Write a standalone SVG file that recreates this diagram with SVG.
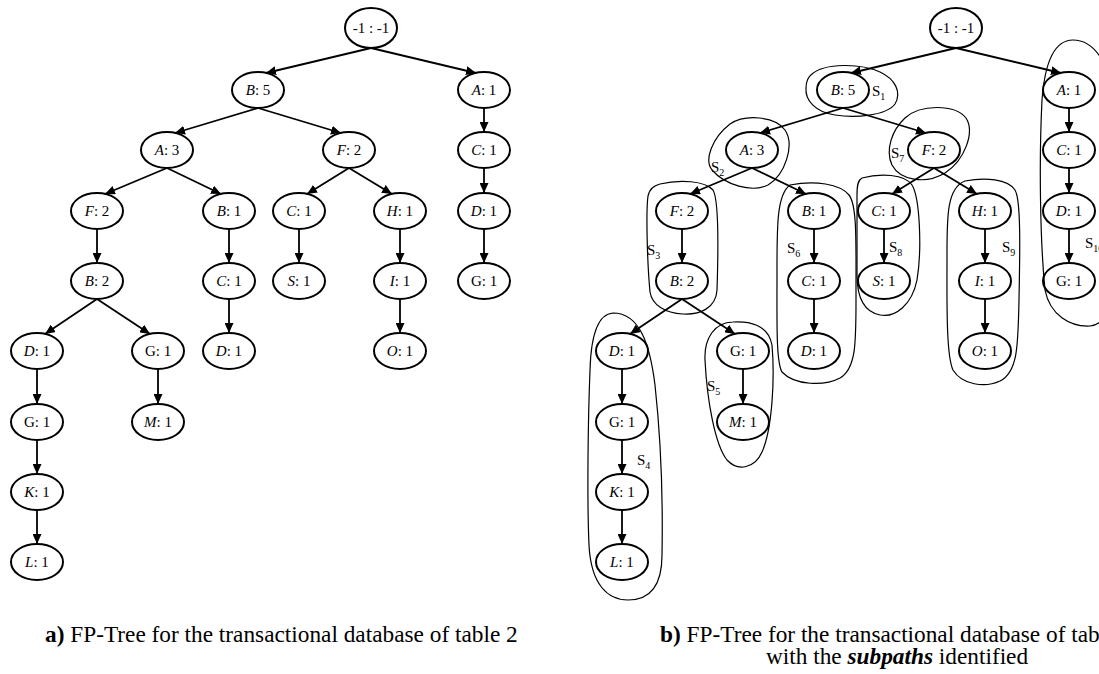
<svg xmlns="http://www.w3.org/2000/svg" width="1099" height="674" viewBox="0 0 1099 674">
<style>
.n ellipse{fill:#fff;stroke:#000;stroke-width:2}
.n text{font-family:"Liberation Serif","Times New Roman",serif;font-size:15px;text-anchor:middle;fill:#000}
.n text tspan.l{font-style:italic}
.e path{fill:none;stroke:#000;stroke-width:1.8;marker-end:url(#ah)}
.h path{fill:none;stroke:#000;stroke-width:1.2}
.lb{font-family:"Liberation Serif","Times New Roman",serif;font-size:15px;fill:#000}
.lb tspan{font-size:10px}
.cap{font-family:"Liberation Serif","Times New Roman",serif;font-size:23.3px;fill:#000}
</style>
<defs>
<marker id="ah" markerUnits="userSpaceOnUse" markerWidth="10" markerHeight="9" refX="10" refY="4.5" orient="auto" viewBox="0 0 10 9">
<path d="M0,0 L10,4.5 L0,9 Z" fill="#000"/>
</marker>
</defs>
<rect width="1099" height="674" fill="#fff"/>

<!-- LEFT TREE -->
<g id="treeA">
<g id="edgesA" class="e">
<path d="M371,48 L266,73"/>
<path d="M371,48 L476,73"/>
<path d="M258,108 L175,133"/>
<path d="M258,108 L341,133"/>
<path d="M167,168 L105,194"/>
<path d="M167,168 L221,194"/>
<path d="M349,168 L307,194"/>
<path d="M349,168 L392,194"/>
<path d="M484,108 L484,132"/>
<path d="M484,168 L484,193"/>
<path d="M484,229 L484,263"/>
<path d="M97,229 L97,263"/>
<path d="M229,229 L229,263"/>
<path d="M229,299 L229,333"/>
<path d="M299,229 L299,263"/>
<path d="M400,229 L400,263"/>
<path d="M400,299 L400,333"/>
<path d="M97,299 L45,334"/>
<path d="M97,299 L150,334"/>
<path d="M37,369 L37,404"/>
<path d="M158,369 L158,404"/>
<path d="M37,440 L37,474"/>
<path d="M37,510 L37,544"/>
</g>
<g id="a-root" class="n"><ellipse cx="371" cy="28" rx="26" ry="20"/><text x="371" y="33">-1 : -1</text></g>
<g id="a-B5" class="n"><ellipse cx="258" cy="90" rx="26" ry="18"/><text x="258" y="95"><tspan class="l">B</tspan>: 5</text></g>
<g id="a-A1" class="n"><ellipse cx="484" cy="90" rx="26" ry="18"/><text x="484" y="95"><tspan class="l">A</tspan>: 1</text></g>
<g id="a-A3" class="n"><ellipse cx="167" cy="150" rx="26" ry="18"/><text x="167" y="155"><tspan class="l">A</tspan>: 3</text></g>
<g id="a-F2" class="n"><ellipse cx="349" cy="150" rx="26" ry="18"/><text x="349" y="155"><tspan class="l">F</tspan>: 2</text></g>
<g id="a-C1a" class="n"><ellipse cx="484" cy="150" rx="26" ry="18"/><text x="484" y="155"><tspan class="l">C</tspan>: 1</text></g>
<g id="a-F2b" class="n"><ellipse cx="97" cy="211" rx="26" ry="18"/><text x="97" y="216"><tspan class="l">F</tspan>: 2</text></g>
<g id="a-B1" class="n"><ellipse cx="229" cy="211" rx="26" ry="18"/><text x="229" y="216"><tspan class="l">B</tspan>: 1</text></g>
<g id="a-C1b" class="n"><ellipse cx="299" cy="211" rx="26" ry="18"/><text x="299" y="216"><tspan class="l">C</tspan>: 1</text></g>
<g id="a-H1" class="n"><ellipse cx="400" cy="211" rx="26" ry="18"/><text x="400" y="216"><tspan class="l">H</tspan>: 1</text></g>
<g id="a-D1a" class="n"><ellipse cx="484" cy="211" rx="26" ry="18"/><text x="484" y="216"><tspan class="l">D</tspan>: 1</text></g>
<g id="a-B2" class="n"><ellipse cx="97" cy="281" rx="26" ry="18"/><text x="97" y="286"><tspan class="l">B</tspan>: 2</text></g>
<g id="a-C1c" class="n"><ellipse cx="229" cy="281" rx="26" ry="18"/><text x="229" y="286"><tspan class="l">C</tspan>: 1</text></g>
<g id="a-S1" class="n"><ellipse cx="299" cy="281" rx="26" ry="18"/><text x="299" y="286"><tspan class="l">S</tspan>: 1</text></g>
<g id="a-I1" class="n"><ellipse cx="400" cy="281" rx="26" ry="18"/><text x="400" y="286"><tspan class="l">I</tspan>: 1</text></g>
<g id="a-G1a" class="n"><ellipse cx="484" cy="281" rx="26" ry="18"/><text x="484" y="286">G: 1</text></g>
<g id="a-D1b" class="n"><ellipse cx="37" cy="351" rx="26" ry="18"/><text x="37" y="356"><tspan class="l">D</tspan>: 1</text></g>
<g id="a-G1b" class="n"><ellipse cx="158" cy="351" rx="26" ry="18"/><text x="158" y="356">G: 1</text></g>
<g id="a-D1c" class="n"><ellipse cx="229" cy="351" rx="26" ry="18"/><text x="229" y="356"><tspan class="l">D</tspan>: 1</text></g>
<g id="a-O1" class="n"><ellipse cx="400" cy="351" rx="26" ry="18"/><text x="400" y="356"><tspan class="l">O</tspan>: 1</text></g>
<g id="a-G1c" class="n"><ellipse cx="37" cy="422" rx="26" ry="18"/><text x="37" y="427">G: 1</text></g>
<g id="a-M1" class="n"><ellipse cx="158" cy="422" rx="26" ry="18"/><text x="158" y="427"><tspan class="l">M</tspan>: 1</text></g>
<g id="a-K1" class="n"><ellipse cx="37" cy="492" rx="26" ry="18"/><text x="37" y="497"><tspan class="l">K</tspan>: 1</text></g>
<g id="a-L1" class="n"><ellipse cx="37" cy="562" rx="26" ry="18"/><text x="37" y="567"><tspan class="l">L</tspan>: 1</text></g>
</g>

<!-- RIGHT TREE -->
<g id="treeB" transform="translate(585,0)">
<g id="edgesB" class="e">
<path d="M371,48 L266,73"/>
<path d="M371,48 L476,73"/>
<path d="M258,108 L175,133"/>
<path d="M258,108 L341,133"/>
<path d="M167,168 L105,194"/>
<path d="M167,168 L221,194"/>
<path d="M349,168 L307,194"/>
<path d="M349,168 L392,194"/>
<path d="M484,108 L484,132"/>
<path d="M484,168 L484,193"/>
<path d="M484,229 L484,263"/>
<path d="M97,229 L97,263"/>
<path d="M229,229 L229,263"/>
<path d="M229,299 L229,333"/>
<path d="M299,229 L299,263"/>
<path d="M400,229 L400,263"/>
<path d="M400,299 L400,333"/>
<path d="M97,299 L45,334"/>
<path d="M97,299 L150,334"/>
<path d="M37,369 L37,404"/>
<path d="M158,369 L158,404"/>
<path d="M37,440 L37,474"/>
<path d="M37,510 L37,544"/>
</g>
<g id="b-root" class="n"><ellipse cx="371" cy="28" rx="26" ry="20"/><text x="371" y="33">-1 : -1</text></g>
<g id="b-B5" class="n"><ellipse cx="258" cy="90" rx="26" ry="18"/><text x="258" y="95"><tspan class="l">B</tspan>: 5</text></g>
<g id="b-A1" class="n"><ellipse cx="484" cy="90" rx="26" ry="18"/><text x="484" y="95"><tspan class="l">A</tspan>: 1</text></g>
<g id="b-A3" class="n"><ellipse cx="167" cy="150" rx="26" ry="18"/><text x="167" y="155"><tspan class="l">A</tspan>: 3</text></g>
<g id="b-F2" class="n"><ellipse cx="349" cy="150" rx="26" ry="18"/><text x="349" y="155"><tspan class="l">F</tspan>: 2</text></g>
<g id="b-C1a" class="n"><ellipse cx="484" cy="150" rx="26" ry="18"/><text x="484" y="155"><tspan class="l">C</tspan>: 1</text></g>
<g id="b-F2b" class="n"><ellipse cx="97" cy="211" rx="26" ry="18"/><text x="97" y="216"><tspan class="l">F</tspan>: 2</text></g>
<g id="b-B1" class="n"><ellipse cx="229" cy="211" rx="26" ry="18"/><text x="229" y="216"><tspan class="l">B</tspan>: 1</text></g>
<g id="b-C1b" class="n"><ellipse cx="299" cy="211" rx="26" ry="18"/><text x="299" y="216"><tspan class="l">C</tspan>: 1</text></g>
<g id="b-H1" class="n"><ellipse cx="400" cy="211" rx="26" ry="18"/><text x="400" y="216"><tspan class="l">H</tspan>: 1</text></g>
<g id="b-D1a" class="n"><ellipse cx="484" cy="211" rx="26" ry="18"/><text x="484" y="216"><tspan class="l">D</tspan>: 1</text></g>
<g id="b-B2" class="n"><ellipse cx="97" cy="281" rx="26" ry="18"/><text x="97" y="286"><tspan class="l">B</tspan>: 2</text></g>
<g id="b-C1c" class="n"><ellipse cx="229" cy="281" rx="26" ry="18"/><text x="229" y="286"><tspan class="l">C</tspan>: 1</text></g>
<g id="b-S1" class="n"><ellipse cx="299" cy="281" rx="26" ry="18"/><text x="299" y="286"><tspan class="l">S</tspan>: 1</text></g>
<g id="b-I1" class="n"><ellipse cx="400" cy="281" rx="26" ry="18"/><text x="400" y="286"><tspan class="l">I</tspan>: 1</text></g>
<g id="b-G1a" class="n"><ellipse cx="484" cy="281" rx="26" ry="18"/><text x="484" y="286">G: 1</text></g>
<g id="b-D1b" class="n"><ellipse cx="37" cy="351" rx="26" ry="18"/><text x="37" y="356"><tspan class="l">D</tspan>: 1</text></g>
<g id="b-G1b" class="n"><ellipse cx="158" cy="351" rx="26" ry="18"/><text x="158" y="356">G: 1</text></g>
<g id="b-D1c" class="n"><ellipse cx="229" cy="351" rx="26" ry="18"/><text x="229" y="356"><tspan class="l">D</tspan>: 1</text></g>
<g id="b-O1" class="n"><ellipse cx="400" cy="351" rx="26" ry="18"/><text x="400" y="356"><tspan class="l">O</tspan>: 1</text></g>
<g id="b-G1c" class="n"><ellipse cx="37" cy="422" rx="26" ry="18"/><text x="37" y="427">G: 1</text></g>
<g id="b-M1" class="n"><ellipse cx="158" cy="422" rx="26" ry="18"/><text x="158" y="427"><tspan class="l">M</tspan>: 1</text></g>
<g id="b-K1" class="n"><ellipse cx="37" cy="492" rx="26" ry="18"/><text x="37" y="497"><tspan class="l">K</tspan>: 1</text></g>
<g id="b-L1" class="n"><ellipse cx="37" cy="562" rx="26" ry="18"/><text x="37" y="567"><tspan class="l">L</tspan>: 1</text></g>
</g>

<!-- SUBPATH HULLS -->
<g id="subpaths" class="h">
<path id="h-S1" d="M812,74 C825,63 860,63 880,72 C895,79 902,92 895,104 C886,116 855,118 835,115 C815,112 805,100 806,88 C806,82 808,77 812,74 Z"/>
<path id="h-S2" d="M730,124 C745,114 775,116 785,130 C795,145 785,175 768,185 C752,193 725,185 712,170 C704,160 712,138 730,124 Z"/>
<path id="h-S7" d="M905,118 C920,104 955,104 966,118 C975,132 965,160 945,173 C925,185 900,180 892,165 C885,150 892,130 905,118 Z"/>
<path id="h-S3" d="M660,184 C680,179 705,181 713,190 C719,200 718,260 717,290 C716,308 700,315 683,314 C665,313 652,305 650,292 C647,260 646,210 648,196 C650,188 654,186 660,184 Z"/>
<path id="h-S4" d="M613,313 C598,314 591,335 590,370 C588,420 587,500 589,545 C591,585 608,600 628,600 C650,600 662,585 662,555 C663,500 661,440 655,385 C650,345 640,313 613,313 Z"/>
<path id="h-S5" d="M733,322 C748,321 768,324 772,345 C775,380 772,430 762,452 C755,468 738,472 727,460 C715,445 707,400 705,360 C704,338 715,322 733,322 Z"/>
<path id="h-S6" d="M790,185 C815,180 840,184 849,195 C857,205 856,240 856,290 C856,340 857,368 840,378 C825,386 795,386 782,372 C776,362 777,320 777,280 C777,230 776,195 790,185 Z"/>
<path id="h-S8" d="M862,178 C880,173 905,174 912,185 C920,198 922,250 917,280 C912,305 895,318 880,315 C865,312 857,300 857,275 L857,195 C857,185 858,180 862,178 Z"/>
<path id="h-S9" d="M965,181 C985,177 1008,179 1015,190 C1021,200 1020,250 1019,300 C1018,345 1018,372 1000,381 C985,388 962,385 953,370 C946,355 947,300 947,260 C947,220 946,188 965,181 Z"/>
<path id="h-S10" d="M1073,40 C1055,40 1045,60 1042,100 C1039,160 1040,240 1045,290 C1050,315 1070,327 1090,326 C1108,325 1115,300 1115,250 L1112,100 C1110,60 1092,40 1073,40 Z"/>
</g>
<g id="subpath-labels">
<text class="lb" x="872" y="96">S<tspan dy="4">1</tspan></text>
<text class="lb" x="711" y="172">S<tspan dy="4">2</tspan></text>
<text class="lb" x="891" y="158">S<tspan dy="4">7</tspan></text>
<text class="lb" x="647" y="255">S<tspan dy="4">3</tspan></text>
<text class="lb" x="787" y="253">S<tspan dy="4">6</tspan></text>
<text class="lb" x="889" y="252">S<tspan dy="4">8</tspan></text>
<text class="lb" x="1002" y="252">S<tspan dy="4">9</tspan></text>
<text class="lb" x="1085" y="248">S<tspan dy="4">10</tspan></text>
<text class="lb" x="637" y="465">S<tspan dy="4">4</tspan></text>
<text class="lb" x="707" y="391">S<tspan dy="4">5</tspan></text>
</g>

<!-- CAPTIONS -->
<text class="cap" x="45" y="642"><tspan font-weight="bold">a)</tspan> FP-Tree for the transactional database of table 2</text>
<text class="cap"><tspan x="660" y="642" font-weight="bold">b)</tspan> FP-Tree for the transactional database of table 2<tspan x="766" y="664">with the </tspan><tspan font-weight="bold" font-style="italic">subpaths</tspan> identified</text>
</svg>
